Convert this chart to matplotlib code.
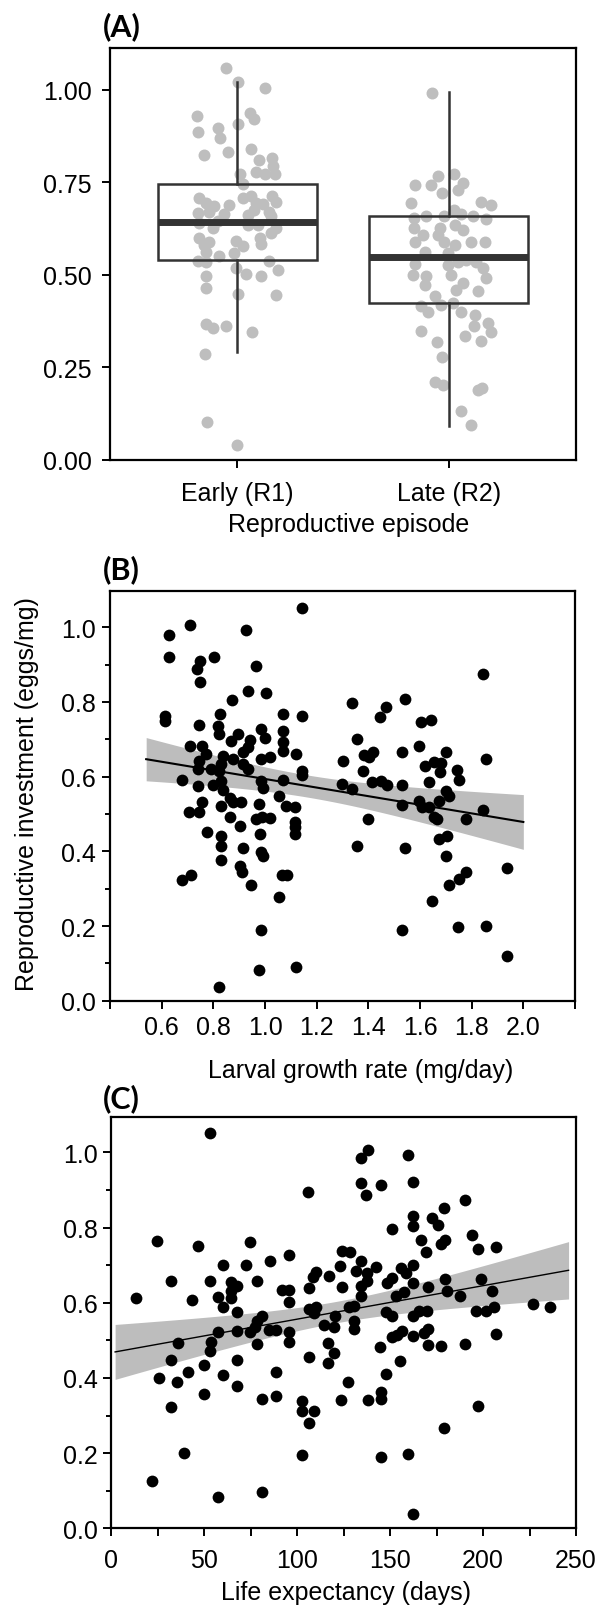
import numpy as np
import matplotlib
matplotlib.use('Agg')
from matplotlib import pyplot as plt
from matplotlib.ticker import MultipleLocator, FormatStrFormatter

plt.rcParams['font.family'] = ['Liberation Sans', 'DejaVu Sans']

# ---- panel A: reproductive investment per episode (jittered points + boxes)
episodes = ['Early (R1)', 'Late (R2)']
early_vals = [1.060, 1.020, 1.005, 0.930, 0.937, 0.921, 0.907, 0.898, 0.885, 0.869,
              0.840, 0.832, 0.823, 0.809, 0.817, 0.793, 0.772, 0.778, 0.772, 0.773,
              0.745, 0.707, 0.694, 0.685, 0.707, 0.712, 0.694, 0.691, 0.712, 0.697,
              0.667, 0.671, 0.664, 0.676, 0.658, 0.640, 0.626, 0.635, 0.635, 0.626,
              0.599, 0.590, 0.592, 0.577, 0.599, 0.583, 0.613, 0.563, 0.550, 0.559,
              0.538, 0.536, 0.518, 0.502, 0.538, 0.514, 0.498, 0.496, 0.464, 0.449,
              0.446, 0.367, 0.356, 0.361, 0.347, 0.287, 0.103, 0.041,
              0.581, 0.645, 0.662, 0.689, 0.671]
early_jitter = [-0.052, 0.005, 0.130, -0.191, 0.063, 0.082, 0.005, -0.092, -0.183, -0.081,
                0.066, -0.044, -0.155, 0.103, 0.166, 0.169, 0.016, 0.090, 0.130, 0.177,
                0.027, -0.182, -0.147, -0.107, 0.027, 0.066, 0.090, 0.122, 0.164, 0.185,
                -0.186, -0.131, -0.060, 0.082, 0.161, -0.179, -0.115, 0.051, 0.098, 0.185,
                -0.179, -0.131, -0.005, 0.027, 0.106, 0.114, 0.161, -0.147, -0.084, -0.013,
                -0.186, -0.147, -0.005, 0.043, 0.153, 0.193, 0.114, -0.147, -0.147, 0.003,
                0.185, -0.147, -0.115, -0.052, 0.071, -0.152, -0.144, 0.0,
                -0.155, -0.092, 0.051, -0.036, 0.153]
late_vals = [0.991, 0.768, 0.772, 0.742, 0.742, 0.721, 0.730, 0.748, 0.694, 0.658,
             0.653, 0.658, 0.676, 0.664, 0.658, 0.697, 0.690, 0.652, 0.626, 0.608,
             0.635, 0.622, 0.590, 0.563, 0.590, 0.581, 0.590, 0.590, 0.541, 0.529,
             0.527, 0.536, 0.536, 0.518, 0.500, 0.496, 0.500, 0.491, 0.473, 0.478,
             0.460, 0.457, 0.442, 0.415, 0.401, 0.419, 0.424, 0.401, 0.392, 0.349,
             0.361, 0.370, 0.320, 0.334, 0.322, 0.347, 0.277, 0.212, 0.203, 0.190,
             0.194, 0.131, 0.094, 0.559, 0.626, 0.608]
late_jitter = [-0.081, -0.052, 0.024, -0.160, -0.084, -0.033, 0.043, 0.066, -0.179, -0.107,
               -0.163, -0.021, 0.024, 0.058, 0.114, 0.153, 0.201, 0.177, -0.163, -0.052,
               0.027, 0.066, -0.160, -0.115, -0.021, 0.027, 0.106, 0.169, 0.082, -0.160,
               -0.005, 0.043, 0.130, 0.161, -0.171, -0.107, 0.011, 0.177, -0.115, 0.066,
               0.035, 0.137, -0.068, -0.131, -0.100, -0.036, 0.019, 0.058, 0.122, -0.134,
               0.118, 0.185, -0.055, 0.074, 0.153, 0.201, -0.033, -0.065, -0.028, 0.137,
               0.156, 0.058, 0.106, -0.005, -0.044, -0.123]
# box statistics as drawn in the figure
box_q1 = [0.539, 0.423]
box_med = [0.644, 0.548]
box_q3 = [0.745, 0.660]
box_lo = [0.292, 0.093]
box_hi = [1.020, 0.995]

# ---- panel B: larval growth rate vs reproductive investment
growth = [0.628, 0.709, 0.628, 0.749, 0.736, 0.749, 0.801, 0.928, 0.964, 0.934,
          1.002, 0.873, 0.612, 0.612, 0.745, 0.826, 0.817, 0.821, 1.071, 0.986,
          0.999, 1.071, 1.071, 1.071, 0.869, 0.895, 0.943, 0.934, 0.915, 0.710,
          0.758, 0.771, 0.745, 0.739, 0.791, 0.836, 0.830, 0.821, 0.876, 0.915,
          0.934, 0.986, 1.019, 0.678, 0.739, 0.797, 0.830, 0.836, 0.986, 0.993,
          1.071, 0.758, 0.745, 0.706, 0.830, 0.863, 0.876, 0.908, 0.976, 1.055,
          1.081, 0.865, 0.902, 0.964, 0.990, 1.019, 0.774, 0.830, 0.830, 0.982,
          0.915, 0.986, 0.993, 0.830, 0.902, 0.912, 0.678, 0.713, 1.065, 1.084,
          0.947, 1.055, 0.986, 0.976, 0.823,
          1.145, 1.145, 1.119, 1.145, 1.145, 1.115, 1.115, 1.115, 1.115, 1.119,
          1.338, 1.445, 1.467, 1.541, 1.357, 1.383, 1.419, 1.403, 1.303, 1.381,
          1.299, 1.338, 1.415, 1.448, 1.471, 1.532, 1.532, 1.532, 1.399, 1.357,
          1.541, 1.605, 1.644, 1.596, 1.618, 1.654, 1.680, 1.677, 1.699, 1.635,
          1.596, 1.608, 1.635, 1.674, 1.654, 1.667, 1.699, 1.712, 1.745, 1.751,
          1.779, 1.845, 1.854, 1.845, 1.674, 1.703, 1.699, 1.712, 1.751, 1.779,
          1.645, 1.532, 1.747, 1.854, 1.938, 1.938]
invest_b = [0.980, 1.006, 0.921, 0.911, 0.887, 0.853, 0.921, 0.994, 0.896, 0.830,
            0.824, 0.806, 0.762, 0.750, 0.738, 0.768, 0.735, 0.713, 0.767, 0.728,
            0.703, 0.723, 0.692, 0.670, 0.696, 0.713, 0.699, 0.679, 0.665, 0.683,
            0.683, 0.661, 0.643, 0.621, 0.621, 0.656, 0.634, 0.616, 0.647, 0.634,
            0.621, 0.646, 0.652, 0.591, 0.576, 0.578, 0.589, 0.563, 0.589, 0.569,
            0.591, 0.533, 0.506, 0.506, 0.521, 0.542, 0.531, 0.531, 0.527, 0.547,
            0.521, 0.491, 0.469, 0.487, 0.491, 0.488, 0.451, 0.440, 0.413, 0.446,
            0.408, 0.397, 0.388, 0.377, 0.362, 0.346, 0.324, 0.337, 0.337, 0.337,
            0.310, 0.279, 0.190, 0.083, 0.038,
            1.051, 0.762, 0.661, 0.616, 0.604, 0.518, 0.478, 0.464, 0.446, 0.091,
            0.796, 0.759, 0.786, 0.808, 0.701, 0.658, 0.665, 0.652, 0.641, 0.616,
            0.580, 0.567, 0.585, 0.589, 0.578, 0.665, 0.578, 0.524, 0.487, 0.415,
            0.408, 0.746, 0.752, 0.683, 0.629, 0.638, 0.636, 0.613, 0.667, 0.587,
            0.536, 0.518, 0.518, 0.536, 0.491, 0.487, 0.562, 0.549, 0.619, 0.592,
            0.487, 0.875, 0.647, 0.512, 0.433, 0.440, 0.387, 0.310, 0.326, 0.346,
            0.266, 0.189, 0.198, 0.201, 0.355, 0.120]
b_fit_range = [0.54, 2.0]

# ---- panel C: life expectancy vs reproductive investment
life = [52.9, 24.7, 46.6, 74.4, 32.1, 13.5, 43.3, 52.9, 60.1, 72.6,
        85.4, 95.3, 78.2, 64.1, 67.7, 64.1, 57.4, 64.1, 60.1, 67.7,
        91.7, 95.3, 95.3, 81.2, 78.5, 77.3, 74.4, 57.4, 67.7, 84.8,
        88.4, 95.3, 95.3, 53.8, 52.9, 35.7, 32.1, 78.2, 67.7, 49.6,
        25.8, 35.2, 41.2, 60.1, 88.4, 67.7, 49.6, 32.1, 81.2, 88.4,
        39.2, 21.7, 57.4, 81.2,
        134.1, 138.2, 159.6, 105.7, 134.1, 137.2, 145.2, 162.5, 190.1, 162.5,
        162.5, 151.2, 172.7, 175.8, 179.0, 166.4, 169.5, 177.2, 179.4, 194.3,
        197.5, 206.8, 124.2, 128.4, 123.0, 134.1, 142.2, 131.4, 137.3, 155.7,
        162.5, 158.3, 109.9, 108.6, 117.1, 106.3, 124.2, 134.1, 137.7, 148.1,
        151.2, 162.5, 179.4, 198.7, 170.4, 180.8, 134.1, 153.0, 157.5, 187.6,
        205.0, 106.3, 109.9, 109.0, 127.8, 130.5, 147.6, 151.2, 162.5, 165.5,
        170.0, 196.1, 201.4, 205.9, 120.3, 114.4, 119.7, 130.5, 130.5, 151.2,
        153.9, 156.6, 162.5, 168.2, 170.4, 206.8, 116.7, 144.5, 170.4, 177.2,
        190.1, 106.3, 119.7, 116.7, 155.3, 147.6, 127.3, 102.7, 102.7, 106.3,
        109.0, 123.3, 138.1, 145.2, 145.2, 197.5, 179.0, 102.3, 145.2, 159.6,
        162.5, 226.6, 236.0]
invest_c = [1.051, 0.765, 0.752, 0.762, 0.659, 0.614, 0.608, 0.659, 0.701, 0.701,
            0.712, 0.728, 0.657, 0.654, 0.645, 0.632, 0.616, 0.614, 0.590, 0.576,
            0.635, 0.635, 0.601, 0.564, 0.551, 0.535, 0.521, 0.521, 0.524, 0.528,
            0.528, 0.521, 0.495, 0.495, 0.473, 0.492, 0.449, 0.490, 0.449, 0.435,
            0.400, 0.390, 0.415, 0.409, 0.415, 0.378, 0.357, 0.324, 0.344, 0.351,
            0.200, 0.125, 0.082, 0.096,
            0.984, 1.006, 0.994, 0.896, 0.918, 0.887, 0.913, 0.922, 0.874, 0.832,
            0.803, 0.796, 0.825, 0.808, 0.851, 0.768, 0.734, 0.756, 0.768, 0.781,
            0.743, 0.749, 0.737, 0.734, 0.699, 0.712, 0.694, 0.685, 0.678, 0.692,
            0.701, 0.678, 0.681, 0.668, 0.672, 0.639, 0.643, 0.645, 0.657, 0.652,
            0.666, 0.652, 0.663, 0.663, 0.641, 0.630, 0.619, 0.619, 0.628, 0.619,
            0.632, 0.583, 0.588, 0.574, 0.590, 0.592, 0.576, 0.566, 0.566, 0.579,
            0.579, 0.579, 0.579, 0.588, 0.566, 0.542, 0.535, 0.552, 0.530, 0.508,
            0.515, 0.524, 0.512, 0.519, 0.530, 0.517, 0.492, 0.481, 0.488, 0.486,
            0.490, 0.455, 0.466, 0.441, 0.444, 0.410, 0.390, 0.338, 0.313, 0.279,
            0.311, 0.340, 0.340, 0.362, 0.344, 0.326, 0.266, 0.195, 0.189, 0.198,
            0.038, 0.597, 0.588]
c_fit_range = [2, 246]


def add_fit(ax, x, y, xr, lw):
    # ordinary least squares line with 95% confidence band
    x = np.asarray(x)
    y = np.asarray(y)
    n = len(x)
    slope, icpt = np.polyfit(x, y, 1)
    resid = y - (icpt + slope * x)
    s = np.sqrt(np.sum(resid ** 2) / (n - 2))
    sxx = np.sum((x - x.mean()) ** 2)
    xs = np.linspace(xr[0], xr[1], 100)
    yhat = icpt + slope * xs
    half = 1.976 * s * np.sqrt(1 / n + (xs - x.mean()) ** 2 / sxx)
    ax.fill_between(xs, yhat - half, yhat + half, color='#bdbdbd', lw=0, zorder=1)
    ax.plot(xs, yhat, color='black', lw=lw, zorder=2)


def style(ax):
    for sp in ax.spines.values():
        sp.set_linewidth(1.6)
        sp.set_color('black')


fig = plt.figure(figsize=(6.05, 16.06), dpi=100)
axA = fig.add_axes([110 / 605, 1 - 461 / 1606, 466 / 605, 411.7 / 1606])
axB = fig.add_axes([110 / 605, 1 - 1001.7 / 1606, 465 / 605, 410 / 1606])
axC = fig.add_axes([111.4 / 605, 1 - 1529.3 / 1606, 464.6 / 605, 411.6 / 1606])

# panel A
axA.scatter(np.array(early_jitter) + 0, early_vals, s=74, color='#bebebe', lw=0, zorder=2)
axA.scatter(np.array(late_jitter) + 1, late_vals, s=74, color='#bebebe', lw=0, zorder=2)
stats = []
for i in range(2):
    stats.append(dict(q1=box_q1[i], med=box_med[i], q3=box_q3[i],
                      whislo=box_lo[i], whishi=box_hi[i], fliers=[]))
axA.bxp(stats, positions=[0, 1], widths=0.75, showfliers=False, showcaps=False,
        patch_artist=True,
        boxprops=dict(facecolor='none', edgecolor='#333333', linewidth=1.8),
        medianprops=dict(color='#333333', linewidth=5, solid_capstyle='butt'),
        whiskerprops=dict(color='#333333', linewidth=1.8))
axA.set_xlim(-0.6, 1.6)
axA.set_ylim(0, 1.112)
axA.set_xticks([0, 1], episodes)
axA.set_yticks([0, 0.25, 0.5, 0.75, 1.0])
axA.yaxis.set_major_formatter(FormatStrFormatter('%.2f'))
axA.tick_params(axis='y', direction='out', length=6, width=1.4, labelsize=18, pad=7)
axA.tick_params(axis='x', direction='out', length=6, width=1.4, labelsize=18, pad=9)
axA.set_xlabel('Reproductive episode', fontsize=18, va='center')
axA.xaxis.set_label_coords(0.513, -0.155)
style(axA)

# panel B
axB.scatter(growth, invest_b, s=72, color='black', lw=0, zorder=3)
add_fit(axB, growth, invest_b, b_fit_range, 1.5)
axB.set_xlim(0.4, 2.2)
axB.set_ylim(0, 1.098)
bt = [0.4, 0.6, 0.8, 1.0, 1.2, 1.4, 1.6, 1.8, 2.0, 2.2]
axB.set_xticks(bt, [''] + ['%.1f' % v for v in bt[1:-1]] + [''])
axB.yaxis.set_major_locator(MultipleLocator(0.2))
axB.yaxis.set_minor_locator(MultipleLocator(0.1))
axB.yaxis.set_major_formatter(FormatStrFormatter('%.1f'))
axB.tick_params(axis='both', which='major', direction='out', length=6, width=1.4, labelsize=18)
axB.tick_params(axis='y', which='minor', direction='out', length=3.5, width=1.4)
axB.tick_params(axis='x', pad=4)
axB.tick_params(axis='y', pad=4)
axB.set_xlabel('Larval growth rate (mg/day)', fontsize=18, va='center')
axB.xaxis.set_label_coords(0.539, -0.169)
axB.set_ylabel('Reproductive investment (eggs/mg)', fontsize=18, va='center')
axB.yaxis.set_label_coords(-0.178, 0.507)
style(axB)

# panel C
axC.scatter(life, invest_c, s=72, color='black', lw=0, zorder=3)
add_fit(axC, life, invest_c, c_fit_range, 1.0)
axC.set_xlim(0, 250)
axC.set_ylim(0, 1.095)
axC.xaxis.set_major_locator(MultipleLocator(50))
axC.xaxis.set_minor_locator(MultipleLocator(25))
axC.yaxis.set_major_locator(MultipleLocator(0.2))
axC.yaxis.set_minor_locator(MultipleLocator(0.1))
axC.yaxis.set_major_formatter(FormatStrFormatter('%.1f'))
axC.tick_params(axis='both', which='major', direction='out', length=6, width=1.4, labelsize=18)
axC.tick_params(axis='x', which='minor', direction='out', length=6, width=1.4)
axC.tick_params(axis='y', which='minor', direction='out', length=3.5, width=1.4)
axC.tick_params(axis='x', pad=8)
axC.tick_params(axis='y', pad=4)
axC.set_xlabel('Life expectancy (days)', fontsize=18, va='center')
axC.xaxis.set_label_coords(0.504, -0.155)
style(axC)

for lab, y in [('(A)', 26.5), ('(B)', 570), ('(C)', 1098.5)]:
    fig.text(103 / 605, 1 - y / 1606, lab, fontsize=22, fontweight='bold',
             family=['Lato', 'DejaVu Sans'], va='center', ha='left')

fig.savefig('out.png', dpi=100)
